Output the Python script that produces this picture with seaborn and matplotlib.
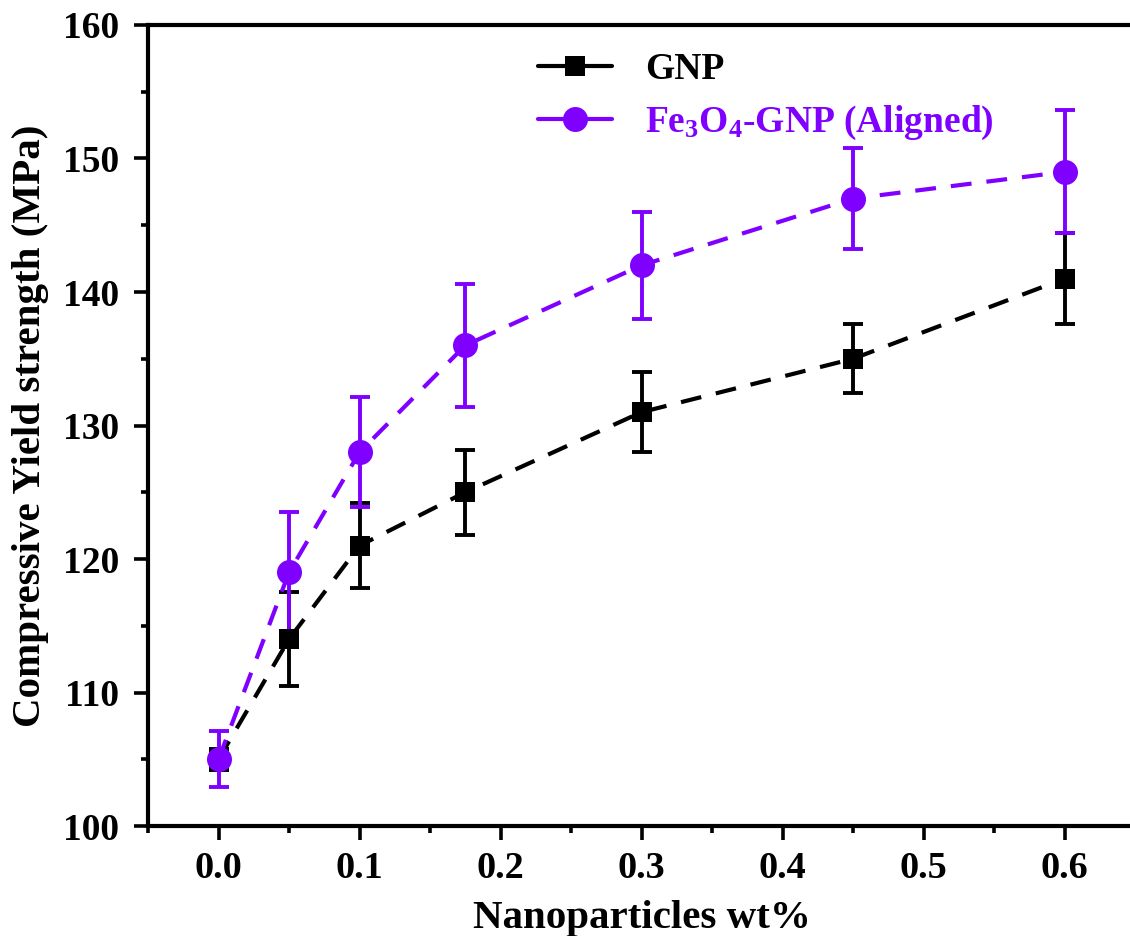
import numpy as np
import pandas as pd
import matplotlib
matplotlib.use("Agg")
import matplotlib.pyplot as plt
import seaborn as sns
from matplotlib.ticker import MultipleLocator, FormatStrFormatter

# Filler content (wt%) and compressive yield strength (MPa)
wt = [0.0, 0.05, 0.1, 0.175, 0.3, 0.45, 0.6]
gnp_ys = [105, 114, 121, 125, 131, 135, 141]
gnp_err = [0.8, 3.5, 3.2, 3.2, 3.0, 2.6, 3.4]
fe_ys = [105, 119, 128, 136, 142, 147, 149]
fe_err = [2.1, 4.5, 4.1, 4.6, 4.0, 3.8, 4.6]

series_names = ["GNP", "Fe$_3$O$_4$-GNP (Aligned)"]
colors = {series_names[0]: "#000000", series_names[1]: "#7F00FF"}
marker_shapes = {series_names[0]: "s", series_names[1]: "o"}
marker_sizes = {"s": 15, "o": 18}

sns.set_theme(style="ticks")
plt.rcParams["font.family"] = ["Liberation Serif", "DejaVu Serif"]
plt.rcParams["font.weight"] = "bold"
plt.rcParams["text.color"] = "black"
plt.rcParams["axes.labelcolor"] = "black"
plt.rcParams["xtick.color"] = "black"
plt.rcParams["ytick.color"] = "black"
plt.rcParams["mathtext.fontset"] = "custom"
plt.rcParams["mathtext.rm"] = "Liberation Serif:bold"
plt.rcParams["mathtext.it"] = "Liberation Serif:bold"
plt.rcParams["mathtext.bf"] = "Liberation Serif:bold"

df = pd.DataFrame({
    "wt": wt * 2,
    "ys": gnp_ys + fe_ys,
    "series": [series_names[0]] * len(wt) + [series_names[1]] * len(wt),
})

fig = plt.figure(figsize=(11.3, 9.36), dpi=100)
ax = fig.add_axes([0.131, 0.1175, 0.8735, 0.8558])

# error bars first, then dashed lines with markers
for name, ys, err in [(series_names[0], gnp_ys, gnp_err), (series_names[1], fe_ys, fe_err)]:
    ax.errorbar(wt, ys, yerr=err, fmt="none", ecolor=colors[name],
                elinewidth=2.8, capsize=7, capthick=2.8, zorder=2)

sns.lineplot(data=df, x="wt", y="ys", hue="series", style="series",
             palette=colors, markers=marker_shapes,
             dashes={series_names[0]: (5, 3.6), series_names[1]: (5, 3.6)},
             markersize=16, markeredgewidth=0, linewidth=3.0,
             estimator=None, sort=False, ax=ax, zorder=3)

for ln in ax.lines:
    m = ln.get_marker()
    if m in marker_sizes:
        ln.set_markersize(marker_sizes[m])

ax.set_xlim(-0.05, 0.65)
ax.set_ylim(100, 160)
ax.xaxis.set_major_locator(MultipleLocator(0.1))
ax.xaxis.set_minor_locator(MultipleLocator(0.05))
ax.yaxis.set_major_locator(MultipleLocator(10))
ax.yaxis.set_minor_locator(MultipleLocator(5))
ax.xaxis.set_major_formatter(FormatStrFormatter("%.1f"))

for s in ["left", "bottom", "top", "right"]:
    ax.spines[s].set_linewidth(3)
    ax.spines[s].set_color("black")

ax.tick_params(which="major", direction="out", length=10, width=2.6, color="black",
               labelcolor="black")
ax.tick_params(which="minor", direction="out", length=5, width=2.6, color="black")
ax.tick_params(axis="x", which="major", labelsize=27.5, pad=8)
ax.tick_params(axis="y", which="major", labelsize=27, pad=11)
ax.tick_params(axis="x", which="both", top=False)
ax.tick_params(axis="y", which="both", right=False)
for lab in ax.get_xticklabels() + ax.get_yticklabels():
    lab.set_fontweight("bold")

ax.set_xlabel("Nanoparticles wt%", fontsize=29.5, fontweight="bold", labelpad=10,
              color="black")
ax.set_ylabel("Compressive Yield strength (MPa)", fontsize=29.5, fontweight="bold",
              labelpad=10, color="black")

leg = ax.legend(loc="upper left", bbox_to_anchor=(0.395, 0.966), frameon=False,
                fontsize=27, handlelength=1.97, handletextpad=0.88, labelspacing=0.45,
                borderaxespad=0, borderpad=0)
for text, name in zip(leg.get_texts(), series_names):
    text.set_color(colors[name])
    text.set_fontweight("bold")
for h in leg.get_lines():
    h.set_linestyle("-")

fig.savefig("out.png", dpi=100)
